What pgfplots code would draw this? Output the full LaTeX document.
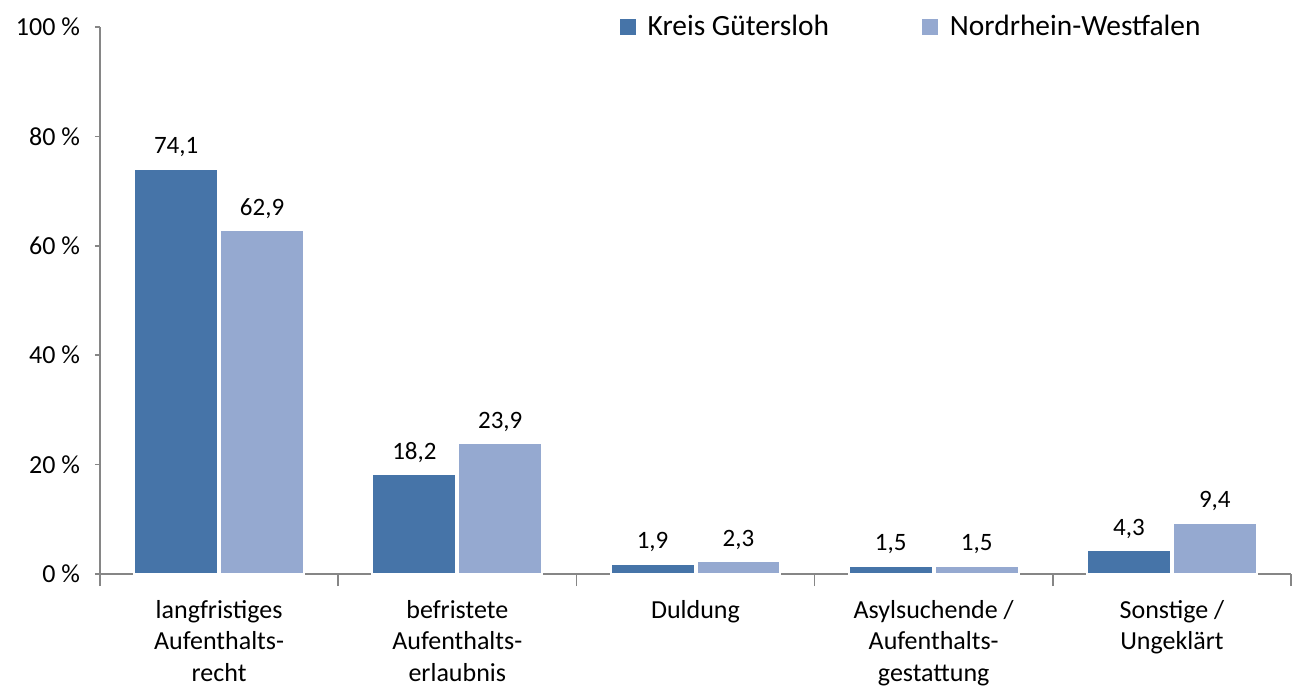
\documentclass[border=0pt]{standalone}
\usepackage{pgfplots}
\pgfplotsset{compat=1.18}
\usepackage{fontspec}
\setmainfont{Carlito}
\usetikzlibrary{calc}

\definecolor{kreis}{HTML}{4674A8}
\definecolor{nrw}{HTML}{95A9D0}
\definecolor{axisgray}{HTML}{868686}

\begin{document}
\begin{tikzpicture}
    \begin{axis}[
            scale only axis,
            width=595.5pt,
            height=273.5pt,
            xmin=-0.5, xmax=4.5,
            ymin=0, ymax=100,
            ybar=1pt,
            bar width=0.352,
            axis x line*=bottom,
            axis y line*=left,
            axis line style={axisgray, line width=0.8pt},
            tick align=outside,
            major tick length=2.5pt,
            minor tick length=6pt,
            tick style={axisgray, line width=0.8pt},
            xtick={0,...,4},
            major x tick style={draw=none},
            minor xtick={-0.5,0.5,...,4.5},
            xticklabels={
                    {langfristiges\\Aufenthalts-\\recht},
                    {befristete\\Aufenthalts-\\erlaubnis},
                    {Duldung},
                    {Asylsuchende /\\Aufenthalts-\\gestattung},
                    {Sonstige /\\Ungeklärt}
                },
            xticklabel style={align=center, font=\fontsize{13}{15.75}\selectfont, yshift=-7pt},
            ytick={0,20,...,100},
            yticklabel={\pgfmathprintnumber{\tick}\ \%},
            yticklabel style={font=\fontsize{13}{15.75}\selectfont, xshift=-4pt},
            /pgf/number format/assume math mode=true,
            legend columns=2,
            legend cell align=left,
            legend style={
                    at={(0.436,1.0)},
                    anchor=west,
                    draw=none,
                    fill=none,
                    inner sep=0pt,
                    font=\fontsize{14.7}{16}\selectfont,
                    /tikz/every odd column/.append style={column sep=4pt},
                    /tikz/every even column/.append style={column sep=44.5pt}
                },
            nodes near coords={\pgfmathprintnumber[fixed, fixed zerofill, precision=1, use comma, assume math mode=true]{\pgfplotspointmeta}},
            every node near coord/.append style={font=\fontsize{12.5}{14}\selectfont, black, yshift=2pt},
        ]

        % Kreis Guetersloh
        \addplot[
            fill=kreis, draw=white, line width=1pt,
            legend image code/.code={\fill[kreis] (0pt,-3.5pt) rectangle (7pt,3.5pt);}
        ] coordinates {
                (0, 74.1) (1, 18.2) (2, 1.9) (3, 1.5) (4, 4.3)
            };
        \addlegendentry{Kreis Gütersloh}

        % Nordrhein-Westfalen
        \addplot[
            fill=nrw, draw=white, line width=1pt,
            legend image code/.code={\fill[nrw] (0pt,-3.5pt) rectangle (7pt,3.5pt);}
        ] coordinates {
                (0, 62.9) (1, 23.9) (2, 2.3) (3, 1.5) (4, 9.4)
            };
        \addlegendentry{Nordrhein-Westfalen}

    \end{axis}
    \pgfresetboundingbox
    \path[use as bounding box]
    ($(current axis.south west)+(-50pt,-56.5pt)$) rectangle ($(current axis.north east)+(1pt,13.5pt)$);
\end{tikzpicture}
\end{document}
